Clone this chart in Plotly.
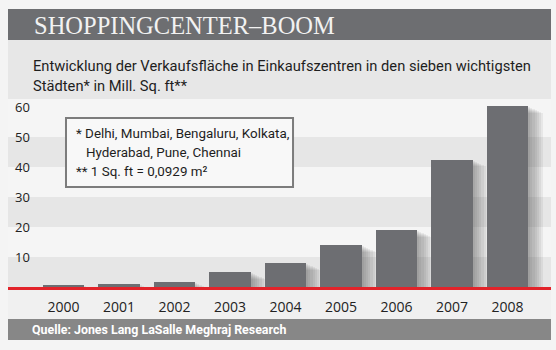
import plotly.graph_objects as go

years = [2000, 2001, 2002, 2003, 2004, 2005, 2006, 2007, 2008]
values = [0.7, 1.1, 1.7, 5.0, 8.0, 14.0, 19.0, 42.3, 60.4]
y_ticks = [10, 20, 30, 40, 50, 60]
band_ranges = [(0, 10), (20, 30), (40, 50)]

title = "SHOPPINGCENTER–BOOM"
subtitle1 = "Entwicklung der Verkaufsfläche in Einkaufszentren in den sieben wichtigsten"
subtitle2 = "Städten* in Mill. Sq. ft**"
footnote_lines = ["* Delhi, Mumbai, Bengaluru, Kolkata,",
                  "&nbsp;&nbsp;&nbsp;Hyderabad, Pune, Chennai",
                  "** 1 Sq. ft = 0,0929 m²"]
source = "Quelle: Jones Lang LaSalle Meghraj Research"

SANS = "Roboto, sans-serif"
BAR = "#6d6e72"

# pixel helpers for layout placement (plot area spans y=40..287 px)
TOP, BOT = 40, 287
H = BOT - TOP


def py(p):
    return (BOT - p) / H


fig = go.Figure()

# soft shadow layers to the right of each bar
step_px = 55.5
n_layers = 7
for j in range(1, n_layers + 1):
    fig.add_trace(go.Bar(
        x=years, y=[max(v - 0.35 * j, 0) for v in values],
        width=0.74, offset=-0.37 + (2.2 * j) / step_px,
        marker=dict(color="rgba(70,70,72,0.075)", line=dict(width=0)),
        hoverinfo="skip", showlegend=False))

fig.add_trace(go.Bar(
    x=years, y=values, width=0.74, offset=-0.37,
    marker=dict(color=BAR, line=dict(width=0)), showlegend=False))

shapes = []
for lo, hi in band_ranges:
    shapes.append(dict(type="rect", xref="paper", yref="y", x0=0, x1=1, y0=lo, y1=hi,
                       fillcolor="#e6e6e6", line=dict(width=0), layer="below"))
# frame decorations (paper coordinates)
shapes += [
    dict(type="rect", xref="paper", yref="paper", x0=0, x1=1, y0=py(40), y1=py(9),
         fillcolor="#6d6e71", line=dict(width=0), layer="below"),
    dict(type="rect", xref="paper", yref="paper", x0=0, x1=1, y0=py(99), y1=py(40),
         fillcolor="#e7e7e7", line=dict(width=0), layer="below"),
    dict(type="rect", xref="paper", yref="paper", x0=0, x1=1, y0=py(319), y1=py(287),
         fillcolor="#f0f0f0", line=dict(width=0), layer="below"),
    dict(type="rect", xref="paper", yref="paper", x0=0, x1=1, y0=py(340), y1=py(319),
         fillcolor="#878787", line=dict(width=0), layer="below"),
    dict(type="rect", xref="paper", yref="paper", x0=0.1068, x1=0.5249, y0=py(187), y1=py(118),
         fillcolor="#f8f8f8", line=dict(color="#7c7c7c", width=2), layer="above"),
]

annotations = [
    dict(text=title, xref="paper", yref="paper", x=0.0442, y=py(25.5), xanchor="left",
         yanchor="middle", showarrow=False,
         font=dict(family="Liberation Serif, DejaVu Serif, serif", size=24.5, color="#f2f2f2")),
    dict(text=subtitle1, xref="paper", yref="paper", x=0.0424, y=py(66),
         xanchor="left", yanchor="middle", showarrow=False,
         font=dict(family=SANS, size=14.7, color="#1e1e1e")),
    dict(text=subtitle2, xref="paper", yref="paper", x=0.0424, y=py(86),
         xanchor="left", yanchor="middle", showarrow=False,
         font=dict(family=SANS, size=14.7, color="#1e1e1e")),
    dict(text="<b>" + source + "</b>", xref="paper", yref="paper", x=0.0405,
         y=py(329.5), xanchor="left", yanchor="middle", showarrow=False,
         font=dict(family=SANS, size=12.4, color="#ffffff")),
]
for line, ypix in zip(footnote_lines, [133, 152.5, 171.5]):
    annotations.append(dict(text=line, xref="paper", yref="paper", x=0.1215, y=py(ypix),
                            xanchor="left", yanchor="middle", align="left", showarrow=False,
                            font=dict(family=SANS, size=13.4, color="#1e1e1e")))

fig.update_layout(
    width=556, height=350,
    margin=dict(l=8, r=5, t=TOP, b=350 - BOT),
    paper_bgcolor="#f4f4f4", plot_bgcolor="#f5f5f5",
    barmode="overlay", bargap=0,
    shapes=shapes, annotations=annotations,
    xaxis=dict(range=[1999.0, 2008.784], tickvals=years, ticktext=[str(y) for y in years],
               showgrid=False, zeroline=False, showline=True, linecolor="#e2232a",
               linewidth=3, ticks="", ticklabelstandoff=5,
               tickfont=dict(family="Open Sans, sans-serif", size=14, color="#222222")),
    yaxis=dict(range=[0, H / 3], tickvals=y_ticks, showgrid=False, zeroline=False,
               ticks="", ticklabelposition="inside", ticklabelstandoff=4,
               tickfont=dict(family="Open Sans, sans-serif", size=13, color="#222222")),
)

fig.write_html("out.html")
